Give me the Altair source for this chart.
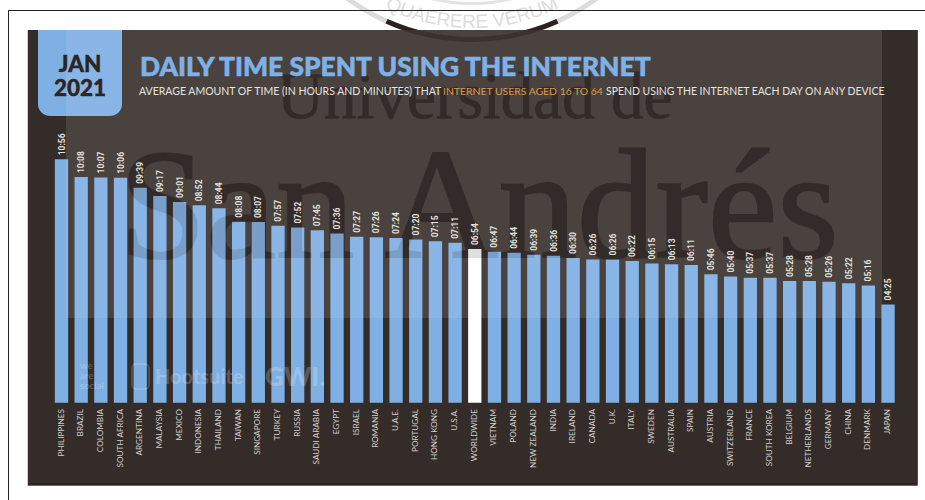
import math
import altair as alt
import pandas as pd

countries = ["PHILIPPINES", "BRAZIL", "COLOMBIA", "SOUTH AFRICA", "ARGENTINA", "MALAYSIA", "MEXICO",
             "INDONESIA", "THAILAND", "TAIWAN", "SINGAPORE", "TURKEY", "RUSSIA", "SAUDI ARABIA", "EGYPT",
             "ISRAEL", "ROMANIA", "U.A.E.", "PORTUGAL", "HONG KONG", "U.S.A.", "WORLDWIDE", "VIETNAM",
             "POLAND", "NEW ZEALAND", "INDIA", "IRELAND", "CANADA", "U.K.", "ITALY", "SWEDEN", "AUSTRALIA",
             "SPAIN", "AUSTRIA", "SWITZERLAND", "FRANCE", "SOUTH KOREA", "BELGIUM", "NETHERLANDS", "GERMANY",
             "CHINA", "DENMARK", "JAPAN"]
times = ["10:56", "10:08", "10:07", "10:06", "09:39", "09:17", "09:01", "08:52", "08:44", "08:08", "08:07",
         "07:57", "07:52", "07:45", "07:36", "07:27", "07:26", "07:24", "07:20", "07:15", "07:11", "06:54",
         "06:47", "06:44", "06:39", "06:36", "06:30", "06:26", "06:26", "06:22", "06:15", "06:13", "06:11",
         "05:46", "05:40", "05:37", "05:37", "05:28", "05:28", "05:26", "05:22", "05:16", "04:25"]

minutes = [int(t[:2]) * 60 + int(t[3:]) for t in times]
bars = pd.DataFrame({"country": countries, "time": times, "minutes": minutes})
one_row = pd.DataFrame({"k": [0]})

PANEL = "#342c29"
BAR = "#7fb0e4"
LABEL = "#d4d0cc"
HEAD = "Lato"
SERIF = "Liberation Serif"

x_scale = alt.Scale(domain=countries, range=[51.66, 897.9], paddingInner=0.324, paddingOuter=0.162)
y_scale = alt.Scale(domain=[0, 656], range=[402.7, 159.3])
x_enc = alt.X("country:N", scale=x_scale, axis=None, sort=None)
y_enc = alt.Y("minutes:Q", scale=y_scale, axis=None)


def box(x0, x1, y0, y1, color, opacity=1.0, **mark):
    return alt.Chart(one_row).mark_rect(color=color, opacity=opacity, **mark).encode(
        x=alt.value(x0), x2=alt.value(x1), y=alt.value(y0), y2=alt.value(y1))


def label(text, x, y, size, color, weight="normal", font=HEAD, align="left", opacity=1.0, **mark):
    return alt.Chart(one_row).mark_text(
        text=text, font=font, fontSize=size, fontWeight=weight, color=color, align=align,
        baseline="alphabetic", opacity=opacity, **mark,
    ).encode(x=alt.value(x), y=alt.value(y))


def ring(r0, r1, half_span, color, opacity):
    return alt.Chart(one_row).mark_arc(
        innerRadius=r0, outerRadius=r1, theta=math.pi - half_span, theta2=math.pi + half_span,
        color=color, opacity=opacity,
    ).encode(x=alt.value(SEAL_X), y=alt.value(SEAL_Y))


def university_text(color, opacity=1.0):
    return [
        label("Universidad de", 277, 118, 65, color, font=SERIF, opacity=opacity,
              stroke=color, strokeWidth=0.8),
        label("San Andrés", 119, 257, 157, color, font=SERIF, opacity=opacity,
              stroke=color, strokeWidth=2.2),
    ]


# seal lettering set along a circle above the panel, spaced by each letter's advance
SEAL_X, SEAL_Y = 472, -170
SEAL_R = 198
SEAL_SIZE = 19
seal_text = "QUAERERE VERUM"
advance = {"Q": 0.778, "U": 0.722, "A": 0.667, "E": 0.667, "R": 0.722, "V": 0.667, "M": 0.833, " ": 0.278}
total = sum(advance[c] for c in seal_text) * SEAL_SIZE / SEAL_R
seal_rows = []
run = -total / 2
for ch in seal_text:
    step = advance[ch] * SEAL_SIZE / SEAL_R
    a = run + step / 2
    run += step
    seal_rows.append({
        "ch": ch,
        "px": SEAL_X + SEAL_R * math.sin(a),
        "py": SEAL_Y + SEAL_R * math.cos(a),
        "rot": (-math.degrees(a)) % 360,
    })
seal_letters = alt.Chart(pd.DataFrame(seal_rows)).mark_text(
    font="Liberation Sans", fontSize=SEAL_SIZE, color="#dcdcdc", baseline="alphabetic"
).encode(
    x=alt.X("px:Q", scale=None, axis=None),
    y=alt.Y("py:Q", scale=None, axis=None),
    text="ch:N",
    angle=alt.Angle("rot:Q", scale=None),
)

bar_layer = alt.Chart(bars).mark_bar().encode(
    x=x_enc,
    y=y_enc,
    color=alt.condition(alt.datum.country == "WORLDWIDE", alt.value("#ffffff"), alt.value(BAR)),
)
value_labels = alt.Chart(bars).mark_text(
    font="Roboto", fontSize=8.5, fontWeight="bold", color="#e4e1dd", angle=270, align="left",
    baseline="middle", dx=4,
).encode(x=x_enc, y=y_enc, text="time:N")
country_labels = alt.Chart(bars).mark_text(
    font=HEAD, fontSize=8.2, color=LABEL, angle=270, align="right", baseline="middle",
).encode(x=x_enc, y=alt.value(409), text="country:N")

layers = [
    # seal rings and lettering, with the outer frame drawn over them
    ring(172, 175, 0.9, "#e3e3e3", 1),
    ring(207, 212, 0.85, "#dcdcdc", 1),
    seal_letters,
    box(8, 9, 10, 500, "#222222"),
    box(8, 925, 10, 11, "#222222"),
    # dark panel and its lighter inner area
    box(27.5, 918, 30, 486, "#a8a5a3"),
    box(28, 917.5, 30, 485.5, "#2c2522"),
    box(28, 917.5, 30, 483, PANEL),
    box(66, 882, 30, 318, "#3a322e"),
    ring(207, 212, 0.42, "#2b211e", 1),
    box(38, 122, 30, 116, BAR, cornerRadiusBottomLeft=12, cornerRadiusBottomRight=12),
    *university_text("#2b211e"),
    bar_layer,
    box(66, 882, 30, 318, "#ffffff", 0.08),
    *university_text("#000000", 0.12),
    # faint brand marks across the bars
    label("we", 80, 369, 9.5, "#ffffff", "bold", opacity=0.2),
    label("are", 80, 379, 9.5, "#ffffff", "bold", opacity=0.2),
    label("social", 80, 389, 9.5, "#ffffff", "bold", opacity=0.2),
    alt.Chart(one_row).mark_rect(
        fillOpacity=0, stroke="#ffffff", strokeOpacity=0.2, strokeWidth=1.5, cornerRadius=4
    ).encode(x=alt.value(132), x2=alt.value(149), y=alt.value(364), y2=alt.value(389)),
    label("Hootsuite", 155, 384, 20, "#ffffff", "bold", opacity=0.2),
    label("GWI.", 265, 386, 26, "#ffffff", 900, opacity=0.2),
    # heading
    label("JAN", 80, 72, 22.5, "#2c2522", 900, align="center", stroke="#2c2522", strokeWidth=0.4),
    label("2021", 80, 96, 22.5, "#2c2522", 900, align="center", stroke="#2c2522", strokeWidth=0.4),
    label("DAILY TIME SPENT USING THE INTERNET", 140, 76, 26.4, "#7fb0e6", 900,
          stroke="#7fb0e6", strokeWidth=0.6),
    label("AVERAGE AMOUNT OF TIME (IN HOURS AND MINUTES) THAT", 139, 95, 10.5, "#e6e3e0"),
    label("INTERNET USERS AGED 16 TO 64", 443, 95, 10.4, "#dd9a4e"),
    label("SPEND USING THE INTERNET EACH DAY ON ANY DEVICE", 606, 95, 10.45, "#e6e3e0"),
    value_labels,
    country_labels,
]

chart = alt.layer(*layers).properties(
    width=925, height=500, padding=0, background="#ffffff",
    autosize=alt.AutoSizeParams(type="none"),
).configure_view(stroke=None)

chart.save("out.html", embed_options={"renderer": "svg", "actions": False})
